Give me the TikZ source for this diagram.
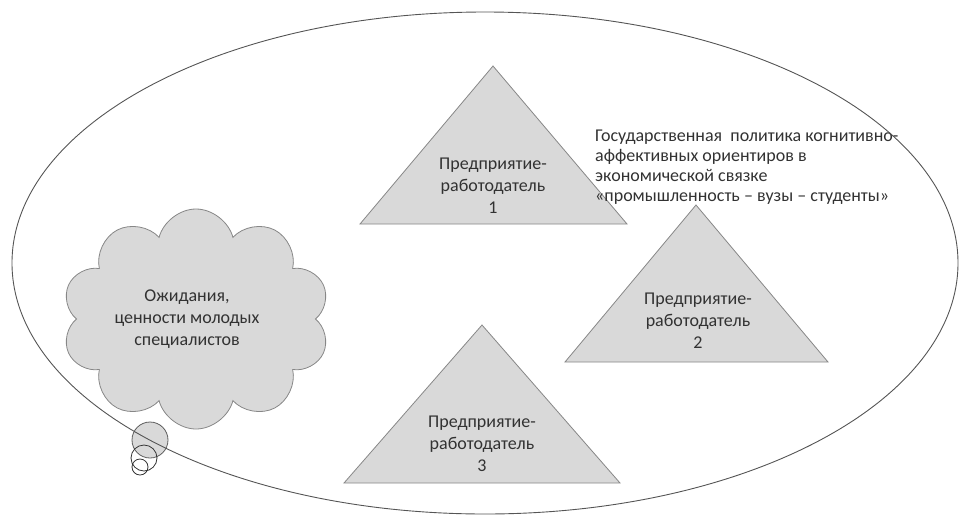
\documentclass[tikz,border=0pt]{standalone}
\usepackage{fontspec}
\setmainfont{Carlito}
\usetikzlibrary{shapes.symbols}
\definecolor{shapegray}{RGB}{217,217,217}
\definecolor{edgegray}{RGB}{135,135,135}
\definecolor{textgray}{RGB}{50,50,50}
\definecolor{ovalgray}{RGB}{85,85,85}

\begin{document}
\begin{tikzpicture}[x=1pt, y=-1pt,
  tri/.style={draw=edgegray, fill=shapegray, line width=0.8pt},
  lbl/.style={font=\fontsize{18}{22}\selectfont, text=textgray, align=center, inner sep=0pt},
  bubble/.style={circle, draw=black!80, line width=0.8pt, inner sep=0pt}]
  \useasboundingbox (0,0) rectangle (961,515);
  % thought cloud with its small bubbles
  \node[cloud, cloud puffs=10, cloud ignores aspect, draw=edgegray, fill=shapegray, line width=0.8pt, minimum width=268pt, minimum height=220pt] (cloud) at (196,319) {};
  \node[lbl] (hopes) at (187,319) {Ожидания,\\ценности молодых\\специалистов};
  \node[bubble, fill=shapegray, draw=edgegray!70!black, minimum size=36pt] (bub1) at (150,440) {};
  \node[bubble, minimum size=26pt] (bub2) at (144,458) {};
  \node[bubble, minimum size=16pt] (bub3) at (140,467) {};
  % employers
  \filldraw[tri] (493,66) -- (627,224) -- (360,224) -- cycle;
  \filldraw[tri] (696,205) -- (828,362) -- (565,362) -- cycle;
  \filldraw[tri] (482,325) -- (620,483) -- (344,483) -- cycle;
  \node[lbl] (emp1) at (493,186) {Предприятие-\\работодатель\\1};
  \node[lbl] (emp2) at (698,321) {Предприятие-\\работодатель\\2};
  \node[lbl] (emp3) at (482,444) {Предприятие-\\работодатель\\3};
  % policy text
  \node[lbl, align=left, anchor=north west, font=\fontsize{18}{20}\selectfont] (policy) at (595,130)
    {Государственная\ \ политика когнитивно-\\аффективных ориентиров в\\экономической связке\\«промышленность – вузы – студенты»};
  % outer oval
  \draw[ovalgray, line width=0.9pt] (485,263) ellipse [x radius=473, y radius=251];
\end{tikzpicture}
\end{document}
